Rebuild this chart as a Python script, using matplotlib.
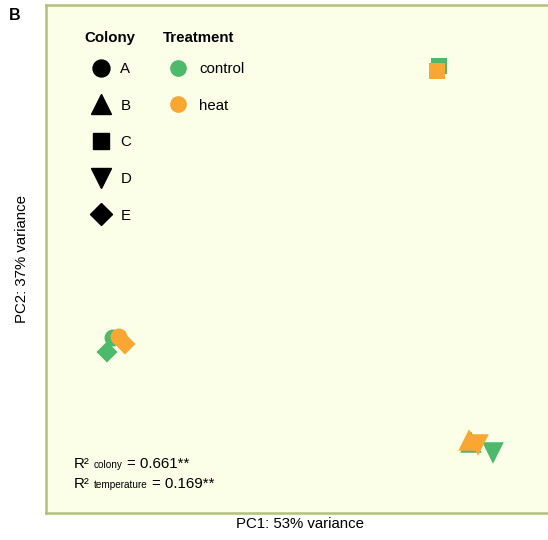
import matplotlib
matplotlib.use("Agg")
import matplotlib.pyplot as plt
from matplotlib.lines import Line2D
from matplotlib.offsetbox import TextArea, HPacker, VPacker, AnchoredOffsetbox

plt.rcParams['font.family'] = ['Liberation Sans', 'DejaVu Sans']

# PCA scores per sample
colony = ['A', 'A', 'B', 'B', 'C', 'C', 'D', 'D', 'E', 'E']
treatment = ['control', 'heat'] * 5
pc1 = [-18.7, -18.1, 17.1, 16.9, 13.9, 13.7, 19.3, 17.8, -19.3, -17.5]
pc2 = [-4.8, -4.7, -15.2, -15.0, 22.4, 21.9, -16.3, -15.5, -6.2, -5.4]

colony_levels = ['A', 'B', 'C', 'D', 'E']
colony_markers = {'A': 'o', 'B': '^', 'C': 's', 'D': 'v', 'E': 'D'}
marker_size = {'A': 12.2, 'B': 15.5, 'C': 11.5, 'D': 15.5, 'E': 10.7}
treatment_levels = ['control', 'heat']
treatment_colors = {'control': '#4CB96B', 'heat': '#F9A633'}

r2_colony = "0.661**"
r2_temperature = "0.169**"

bg = '#FBFFE8'
frame = '#B3C07A'

W, H = 548, 540
fig = plt.figure(figsize=(W / 100, H / 100), dpi=100)

# axes box in pixel units (left, right, top, bottom)
L, R, T, B = 46.3, 556.0, 5.0, 512.5
ax = fig.add_axes([L / W, 1 - B / H, (R - L) / W, (B - T) / H])
ax.set_facecolor(bg)
ax.set_xlim(-25.37, 25.6)
ax.set_ylim(-22.25, 28.5)
ax.set_xticks([])
ax.set_yticks([])
for sp in ax.spines.values():
    sp.set_color(frame)
    sp.set_linewidth(1.8)

# controls underneath, heat-treated on top
for tr in treatment_levels:
    for c, t, x, y in zip(colony, treatment, pc1, pc2):
        if t != tr:
            continue
        ax.scatter([x], [y], marker=colony_markers[c], s=marker_size[c] ** 2,
                   color=treatment_colors[t], edgecolors='none', zorder=3)

fs = 10.8
# legend titles
fig.text(84 / W, 1 - 38 / H, 'Colony', ha='left', va='center', fontsize=fs, weight='bold')
fig.text(163 / W, 1 - 38 / H, 'Treatment', ha='left', va='center', fontsize=fs, weight='bold')

# Colony legend
col_handles = [Line2D([], [], marker=colony_markers[c], color='black', linestyle='',
                      markersize=min(marker_size[c], 15)) for c in colony_levels]
leg1 = ax.legend(col_handles, colony_levels, loc='upper left',
                 bbox_to_anchor=(84 / W, 1 - 62 / H), bbox_transform=fig.transFigure,
                 frameon=False, fontsize=fs,
                 borderpad=0, borderaxespad=0, labelspacing=1.51,
                 handlelength=2.33, handletextpad=0.1)
ax.add_artist(leg1)

# Treatment legend
tr_handles = [Line2D([], [], marker='o', color=treatment_colors[t], linestyle='',
                     markersize=11) for t in treatment_levels]
leg2 = ax.legend(tr_handles, treatment_levels, loc='upper left',
                 bbox_to_anchor=(163 / W, 1 - 62 / H), bbox_transform=fig.transFigure,
                 frameon=False, fontsize=fs,
                 borderpad=0, borderaxespad=0, labelspacing=1.51,
                 handlelength=2.05, handletextpad=0.35)

# R² annotation
def r2_line(sub, value):
    parts = [TextArea("R²", textprops=dict(size=fs)),
             TextArea(sub, textprops=dict(size=fs * 0.67)),
             TextArea("= " + value, textprops=dict(size=fs))]
    return HPacker(children=parts, align='baseline', pad=0, sep=3)

r2_box = VPacker(children=[r2_line('colony', r2_colony),
                           r2_line('temperature', r2_temperature)],
                 align='left', pad=0, sep=4)
anchored = AnchoredOffsetbox(loc='lower left', child=r2_box, pad=0, borderpad=0,
                             frameon=False, bbox_to_anchor=(74 / W, 1 - 491 / H),
                             bbox_transform=fig.transFigure)
ax.add_artist(anchored)

fig.text(300 / W, 1 - 524 / H, 'PC1: 53% variance', ha='center', va='center', fontsize=fs)
fig.text(22 / W, 1 - 259 / H, 'PC2: 37% variance', ha='center', va='center',
         fontsize=fs, rotation=90)
fig.text(15 / W, 1 - 15.5 / H, 'B', ha='center', va='center', fontsize=11.5, weight='bold')

fig.savefig('out.png', dpi=100)
